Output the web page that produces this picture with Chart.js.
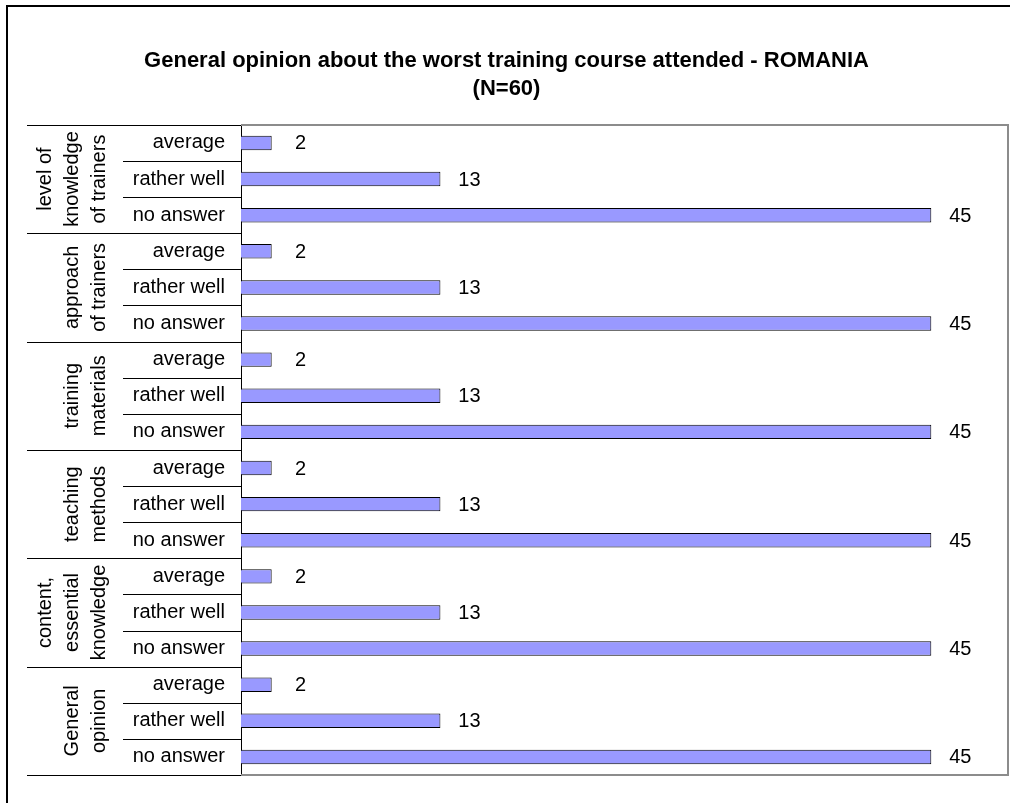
<!DOCTYPE html>
<html>
<head>
<meta charset="utf-8">
<script src="https://cdn.jsdelivr.net/npm/chart.js@4.4.0/dist/chart.umd.min.js"></script>
<style>
  body { margin: 0; background: #fff; }
  canvas { display: block; }
</style>
</head>
<body>
<canvas id="chart" width="1010" height="803"></canvas>
<script>
// Group names (drawn rotated in the left column), one entry per text line
const groupLabels = [
  ['level of', 'knowledge', 'of trainers'],
  ['approach', 'of trainers'],
  ['training', 'materials'],
  ['teaching', 'methods'],
  ['content,', 'essential', 'knowledge'],
  ['General', 'opinion']
];
const answerLabels = ['average', 'rather well', 'no answer'];

// Number of answers per group, same order as answerLabels
const knowledgeOfTrainers = [2, 13, 45];
const approachOfTrainers = [2, 13, 45];
const trainingMaterials = [2, 13, 45];
const teachingMethods = [2, 13, 45];
const contentKnowledge = [2, 13, 45];
const generalOpinion = [2, 13, 45];

const groupCounts = [
  knowledgeOfTrainers, approachOfTrainers, trainingMaterials,
  teachingMethods, contentKnowledge, generalOpinion
];

const FONT = 'Arial, "Liberation Sans", sans-serif';

// Flatten into one row per answer
const rowLabels = groupCounts.flatMap(() => answerLabels);
const rowValues = groupCounts.flat();

// Outer frame, plot outline, row separators and rotated group names
const decorations = {
  id: 'decorations',
  beforeDraw(chart) {
    const ctx = chart.ctx;
    ctx.save();
    ctx.fillStyle = '#000';
    ctx.fillRect(6, 5, 2, chart.height);
    ctx.fillRect(6, 5, chart.width, 2);
    ctx.restore();
  },
  beforeDatasetsDraw(chart) {
    const { ctx, chartArea } = chart;
    ctx.save();
    ctx.strokeStyle = '#8c8c8c';
    ctx.lineWidth = 2;
    ctx.beginPath();
    ctx.moveTo(chartArea.left, chartArea.top);
    ctx.lineTo(chartArea.right, chartArea.top);
    ctx.lineTo(chartArea.right, chartArea.bottom);
    ctx.lineTo(chartArea.left, chartArea.bottom);
    ctx.stroke();
    ctx.restore();
  },
  afterDraw(chart) {
    const { ctx, chartArea } = chart;
    const rows = rowLabels.length;
    const rowH = (chartArea.bottom - chartArea.top) / rows;
    ctx.save();
    ctx.strokeStyle = '#000';
    ctx.lineWidth = 1;
    for (let k = 0; k <= rows; k++) {
      const y = Math.round(chartArea.top + k * rowH) + 0.5;
      ctx.beginPath();
      ctx.moveTo(k % 3 === 0 ? 27 : 123, y);
      ctx.lineTo(chartArea.left, y);
      ctx.stroke();
    }

    ctx.fillStyle = '#000';
    ctx.font = '20px ' + FONT;
    ctx.textAlign = 'center';
    ctx.textBaseline = 'middle';
    groupLabels.forEach((lines, g) => {
      const cy = chartArea.top + (g * 3 + 1.5) * rowH;
      lines.forEach((line, i) => {
        const x = 99 - (lines.length - 1 - i) * 27;
        ctx.save();
        ctx.translate(x, cy);
        ctx.rotate(-Math.PI / 2);
        ctx.fillText(line, 0, 0);
        ctx.restore();
      });
    });

    // Value labels to the right of each bar
    const meta = chart.getDatasetMeta(0);
    meta.data.forEach((bar, i) => {
      ctx.fillText(String(rowValues[i]), bar.x + 29, bar.y + 1);
    });
    ctx.restore();
  }
};

new Chart(document.getElementById('chart'), {
  type: 'bar',
  data: {
    labels: rowLabels,
    datasets: [{
      data: rowValues,
      backgroundColor: '#9999ff',
      borderColor: '#000',
      borderWidth: 1,
      barPercentage: 0.4,
      categoryPercentage: 1
    }]
  },
  options: {
    indexAxis: 'y',
    responsive: false,
    animation: false,
    layout: { padding: { left: 5, right: 2, top: 0, bottom: 11 } },
    plugins: {
      legend: { display: false },
      tooltip: { enabled: false },
      title: {
        display: true,
        text: ['General opinion about the worst training course attended - ROMANIA', '(N=60)'],
        color: '#000',
        font: { family: FONT, size: 22, weight: 'bold', lineHeight: 1.27 },
        padding: { top: 47, bottom: 22 }
      }
    },
    scales: {
      x: { display: false, min: 0, max: 50 },
      y: {
        grid: { display: false, drawTicks: false },
        border: { display: true, color: '#000', width: 1 },
        ticks: { color: '#000', padding: 16, font: { family: FONT, size: 20 } },
        afterFit(scale) { scale.width = 236; }
      }
    }
  },
  plugins: [decorations]
});
</script>
</body>
</html>
